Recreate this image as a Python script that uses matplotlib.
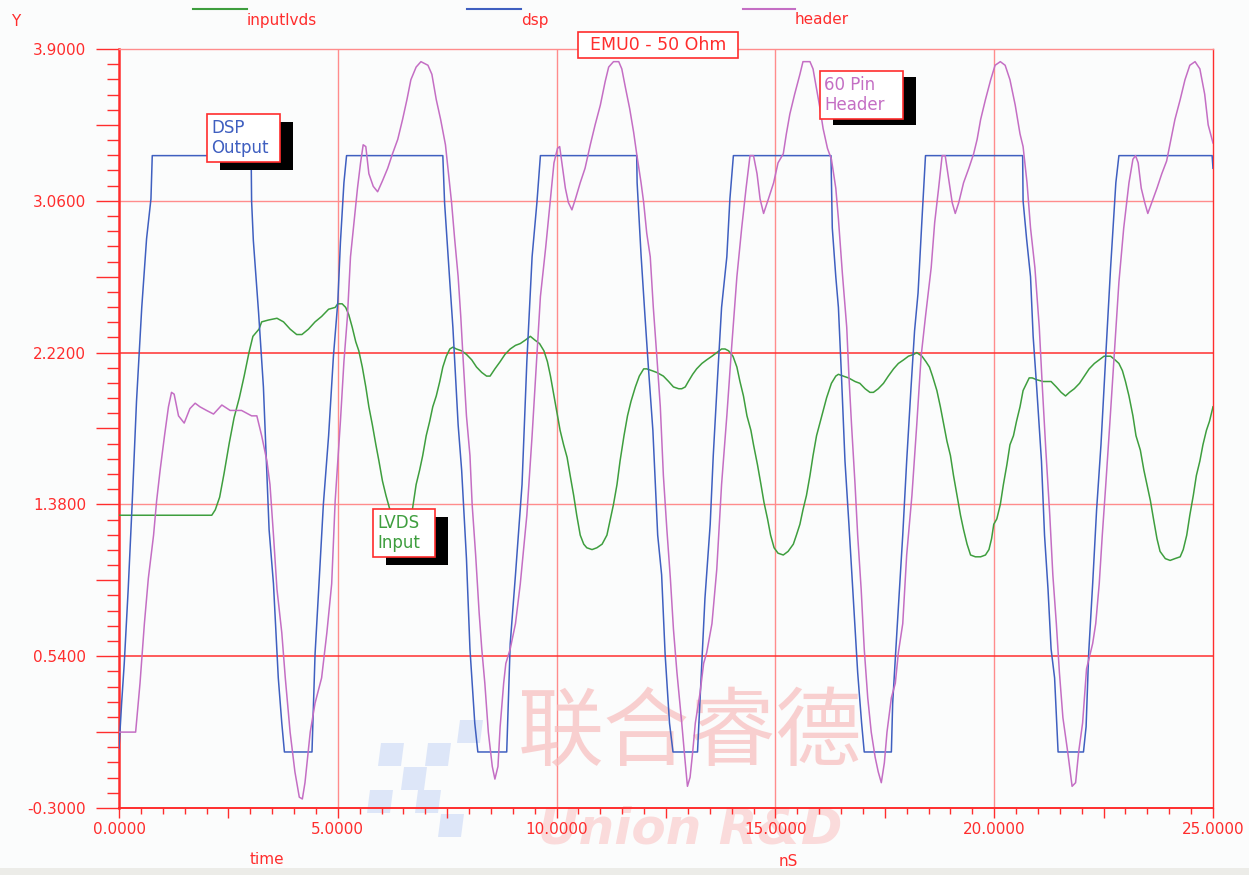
import numpy as np
import matplotlib
matplotlib.use("Agg")
import matplotlib.pyplot as plt
from matplotlib.patches import Rectangle, Polygon
from matplotlib.lines import Line2D

# ---------------- waveform data (time in nS, voltage in V) ----------------
dsp_t = [0.00, 0.06, 0.12, 0.21, 0.30, 0.40, 0.52, 0.63, 0.73, 0.76,
         3.02, 3.03, 3.07, 3.19, 3.30, 3.43, 3.53, 3.64, 3.72, 3.78,
         4.41, 4.48, 4.57, 4.67, 4.79, 4.90, 5.00, 5.06, 5.14, 5.20,
         7.40, 7.44, 7.56, 7.63, 7.75, 7.83, 7.94, 8.02, 8.13, 8.20,
         8.86, 8.94, 9.06, 9.21, 9.32, 9.44, 9.55, 9.63,
         11.83, 11.84, 11.93, 12.02, 12.10, 12.20, 12.31, 12.40, 12.48, 12.58, 12.66,
         13.22, 13.28, 13.39, 13.51, 13.58, 13.68, 13.77, 13.89, 13.96, 14.04,
         16.27, 16.30, 16.38, 16.44, 16.51, 16.59, 16.68, 16.78, 16.88, 16.97, 17.03,
         17.65, 17.68, 17.78, 17.91, 18.00, 18.10, 18.18, 18.26, 18.35, 18.43,
         20.65, 20.66, 20.74, 20.83, 20.89, 20.97, 21.08, 21.15, 21.23, 21.30, 21.38, 21.46,
         22.04, 22.10, 22.16, 22.25, 22.34, 22.44, 22.56, 22.66, 22.78, 22.85,
         24.98, 25.00]
dsp_v = [0.03, 0.28, 0.50, 0.91, 1.38, 1.95, 2.47, 2.85, 3.07, 3.31,
         3.31, 3.06, 2.84, 2.44, 2.03, 1.24, 0.94, 0.42, 0.17, 0.01,
         0.01, 0.55, 0.94, 1.38, 1.76, 2.20, 2.50, 2.83, 3.16, 3.31,
         3.31, 3.05, 2.61, 2.36, 1.82, 1.57, 1.08, 0.58, 0.17, 0.01,
         0.01, 0.61, 0.99, 1.49, 2.17, 2.75, 3.05, 3.31,
         3.31, 3.16, 2.76, 2.42, 2.13, 1.79, 1.21, 0.99, 0.55, 0.17, 0.01,
         0.01, 0.31, 0.86, 1.27, 1.65, 2.09, 2.47, 2.75, 3.07, 3.31,
         3.31, 2.91, 2.64, 2.47, 2.09, 1.62, 1.27, 0.86, 0.45, 0.17, 0.01,
         0.01, 0.28, 0.69, 1.21, 1.62, 2.03, 2.34, 2.55, 2.96, 3.31,
         3.31, 3.06, 2.85, 2.64, 2.31, 2.03, 1.62, 1.21, 0.91, 0.58, 0.42, 0.01,
         0.01, 0.15, 0.56, 0.94, 1.35, 1.71, 2.25, 2.69, 3.16, 3.31,
         3.31, 3.24]

header_t = [0.00, 0.38, 0.48, 0.58, 0.67, 0.79, 0.86, 0.94, 1.04, 1.13, 1.20, 1.26,
            1.36, 1.49, 1.62, 1.74, 1.85, 2.00, 2.16, 2.35, 2.54, 2.80, 3.03, 3.15,
            3.26, 3.38, 3.45, 3.53, 3.61, 3.72, 3.80, 3.91, 4.02, 4.12, 4.19,
            4.25, 4.37, 4.48, 4.63, 4.75, 4.86, 4.94, 5.06, 5.14, 5.22, 5.29, 5.37, 5.45, 5.52, 5.58,
            5.64, 5.71, 5.81, 5.91, 6.02, 6.14, 6.25, 6.37, 6.48, 6.58, 6.67, 6.79, 6.90, 7.06, 7.15,
            7.25, 7.35, 7.46, 7.53, 7.60, 7.67, 7.75, 7.81, 7.86, 7.94, 8.02, 8.07, 8.15, 8.23, 8.29, 8.36, 8.44, 8.53, 8.59,
            8.66, 8.71, 8.79, 8.84, 8.94, 9.06, 9.17, 9.32, 9.44, 9.55, 9.63, 9.75, 9.86, 9.94, 10.02, 10.07,
            10.12, 10.20, 10.27, 10.35, 10.43, 10.54, 10.65, 10.77, 10.88, 11.00, 11.11, 11.19, 11.30, 11.42, 11.49, 11.57,
            11.67, 11.76, 11.83, 11.93, 11.99, 12.06, 12.14, 12.21, 12.29, 12.37, 12.44, 12.52, 12.60, 12.67, 12.75, 12.86, 12.94, 12.99, 13.05,
            13.11, 13.17, 13.28, 13.36, 13.43, 13.55, 13.66, 13.77, 13.89, 14.00, 14.12, 14.23, 14.33, 14.42, 14.50,
            14.58, 14.65, 14.73, 14.84, 14.96, 15.06, 15.18, 15.25, 15.33, 15.44, 15.56, 15.63, 15.79, 15.86, 15.94,
            16.02, 16.09, 16.19, 16.28, 16.38, 16.44, 16.53, 16.63, 16.68, 16.74, 16.82, 16.88, 16.96, 17.03, 17.11, 17.19, 17.28, 17.35, 17.42, 17.49,
            17.55, 17.65, 17.74, 17.81, 17.91, 18.00, 18.12, 18.23, 18.33, 18.43, 18.56, 18.64, 18.73, 18.81, 18.88,
            18.96, 19.04, 19.11, 19.19, 19.30, 19.42, 19.53, 19.61, 19.69, 19.80, 19.92, 20.02, 20.14, 20.25, 20.36,
            20.48, 20.59, 20.66, 20.75, 20.83, 20.93, 21.03, 21.10, 21.18, 21.27, 21.34, 21.42, 21.49, 21.57, 21.68, 21.78, 21.86,
            21.93, 22.02, 22.11, 22.17, 22.25, 22.32, 22.40, 22.47, 22.55, 22.64, 22.74, 22.85, 22.96, 23.08, 23.17, 23.23, 23.29,
            23.36, 23.44, 23.51, 23.60, 23.72, 23.83, 23.94, 24.04, 24.13, 24.25, 24.36, 24.47, 24.59, 24.70, 24.81, 24.89, 24.98, 25.00]
header_v = [0.12, 0.12, 0.39, 0.72, 0.97, 1.21, 1.40, 1.57, 1.76, 1.92, 2.00, 1.99,
            1.87, 1.83, 1.91, 1.94, 1.92, 1.90, 1.88, 1.93, 1.90, 1.90, 1.87, 1.87,
            1.76, 1.62, 1.49, 1.21, 0.91, 0.67, 0.42, 0.12, -0.10, -0.24, -0.25,
            -0.16, 0.12, 0.28, 0.42, 0.67, 0.94, 1.40, 1.84, 2.17, 2.42, 2.75, 2.94, 3.13, 3.27, 3.37,
            3.36, 3.21, 3.14, 3.11, 3.17, 3.24, 3.32, 3.40, 3.51, 3.62, 3.73, 3.80, 3.83, 3.81, 3.76,
            3.62, 3.51, 3.37, 3.21, 3.05, 2.85, 2.64, 2.42, 2.20, 1.87, 1.65, 1.38, 1.10, 0.78, 0.58, 0.39, 0.12, -0.07, -0.14,
            -0.07, 0.15, 0.39, 0.50, 0.58, 0.72, 0.94, 1.32, 1.76, 2.20, 2.53, 2.80, 3.07, 3.27, 3.35, 3.36,
            3.27, 3.13, 3.05, 3.01, 3.07, 3.16, 3.24, 3.37, 3.48, 3.59, 3.72, 3.80, 3.83, 3.83, 3.79, 3.69,
            3.57, 3.44, 3.32, 3.16, 3.05, 2.88, 2.75, 2.47, 2.20, 1.92, 1.54, 1.24, 0.97, 0.69, 0.45, 0.17, -0.05, -0.18, -0.13,
            0.01, 0.17, 0.34, 0.50, 0.56, 0.72, 1.02, 1.49, 1.87, 2.25, 2.64, 2.91, 3.13, 3.31, 3.31,
            3.21, 3.07, 2.99, 3.07, 3.16, 3.27, 3.32, 3.43, 3.54, 3.65, 3.76, 3.83, 3.83, 3.79, 3.68,
            3.57, 3.46, 3.35, 3.29, 3.13, 2.96, 2.66, 2.36, 2.09, 1.82, 1.49, 1.21, 0.91, 0.58, 0.31, 0.12, -0.02, -0.10, -0.16, -0.05,
            0.12, 0.31, 0.39, 0.56, 0.72, 1.10, 1.43, 1.82, 2.20, 2.42, 2.69, 2.94, 3.13, 3.31, 3.31,
            3.18, 3.05, 2.99, 3.05, 3.16, 3.24, 3.32, 3.40, 3.51, 3.62, 3.73, 3.81, 3.83, 3.81, 3.73,
            3.59, 3.43, 3.36, 3.16, 2.91, 2.69, 2.36, 2.03, 1.68, 1.32, 0.99, 0.72, 0.45, 0.20, 0.01, -0.18, -0.16,
            0.01, 0.17, 0.47, 0.53, 0.61, 0.72, 0.94, 1.21, 1.49, 1.82, 2.20, 2.61, 2.91, 3.16, 3.29, 3.31, 3.27,
            3.13, 3.05, 2.99, 3.05, 3.13, 3.21, 3.28, 3.40, 3.51, 3.62, 3.73, 3.81, 3.83, 3.79, 3.65, 3.48, 3.40, 3.38]

lvds_t = [0.00, 2.12, 2.20, 2.30, 2.40, 2.52, 2.63, 2.75, 2.86, 2.97, 3.06, 3.20,
          3.26, 3.41, 3.61, 3.76, 3.91, 4.06, 4.18, 4.33, 4.48, 4.63, 4.79, 4.94, 5.00, 5.10, 5.18,
          5.25, 5.33, 5.41, 5.48, 5.56, 5.64, 5.71, 5.79, 5.87, 5.94, 6.02, 6.10, 6.18, 6.26, 6.35, 6.45,
          6.55, 6.63, 6.71, 6.79, 6.87, 6.94, 7.02, 7.10, 7.17, 7.25, 7.33, 7.40, 7.48, 7.56,
          7.63, 7.71, 7.83, 7.94, 8.06, 8.17, 8.29, 8.40, 8.48, 8.59, 8.71, 8.82, 8.94, 9.06, 9.17, 9.29, 9.40, 9.50, 9.61, 9.71, 9.79, 9.86,
          9.94, 10.02, 10.08, 10.16, 10.24, 10.31, 10.39, 10.46, 10.54, 10.62, 10.69, 10.81, 10.92, 11.04, 11.15,
          11.23, 11.30, 11.38, 11.45, 11.54, 11.62, 11.70, 11.80, 11.89, 11.99, 12.06,
          12.18, 12.29, 12.44, 12.56, 12.67, 12.79, 12.86, 12.94, 13.01, 13.11, 13.20, 13.32, 13.43, 13.55, 13.66, 13.77, 13.85, 13.93, 14.03, 14.12, 14.19, 14.27,
          14.35, 14.44, 14.50, 14.59, 14.67, 14.74, 14.82, 14.89, 14.97, 15.06, 15.18, 15.29, 15.41, 15.48,
          15.56, 15.63, 15.71, 15.79, 15.86, 15.94, 16.06, 16.17, 16.28, 16.38, 16.44,
          16.55, 16.67, 16.82, 16.93, 17.05, 17.16, 17.24, 17.35, 17.47, 17.58, 17.70, 17.81, 17.93, 18.04, 18.16, 18.23, 18.35, 18.44, 18.52, 18.59, 18.69,
          18.77, 18.85, 18.92, 19.00, 19.07, 19.15, 19.23, 19.30, 19.38, 19.46, 19.57, 19.69, 19.80, 19.88, 19.94,
          19.99, 20.06, 20.14, 20.21, 20.29, 20.36, 20.44, 20.51, 20.59, 20.66, 20.74, 20.80, 20.87,
          20.97, 21.12, 21.30, 21.42, 21.53, 21.63, 21.72, 21.83, 21.95, 22.06, 22.17, 22.29, 22.40, 22.51, 22.59, 22.66, 22.76, 22.85, 22.93, 23.00, 23.08,
          23.17, 23.24, 23.34, 23.42, 23.49, 23.57, 23.64, 23.72, 23.79, 23.91, 24.02, 24.13, 24.25, 24.32,
          24.40, 24.47, 24.55, 24.62, 24.70, 24.77, 24.85, 24.92, 25.00]
lvds_v = [1.32, 1.32, 1.35, 1.42, 1.55, 1.72, 1.86, 1.97, 2.09, 2.22, 2.31, 2.35,
          2.39, 2.40, 2.41, 2.39, 2.35, 2.32, 2.32, 2.35, 2.39, 2.42, 2.46, 2.47, 2.49, 2.49, 2.47,
          2.43, 2.36, 2.28, 2.23, 2.14, 2.03, 1.92, 1.82, 1.71, 1.62, 1.51, 1.43, 1.36, 1.28, 1.21, 1.18,
          1.21, 1.29, 1.36, 1.49, 1.57, 1.65, 1.76, 1.84, 1.92, 1.98, 2.06, 2.14, 2.20, 2.24,
          2.25, 2.24, 2.23, 2.21, 2.18, 2.14, 2.11, 2.09, 2.09, 2.13, 2.17, 2.21, 2.24, 2.26, 2.27, 2.29, 2.31, 2.29, 2.27, 2.23, 2.17, 2.09,
          1.98, 1.87, 1.79, 1.71, 1.64, 1.54, 1.43, 1.32, 1.21, 1.16, 1.14, 1.13, 1.14, 1.16, 1.21,
          1.30, 1.38, 1.49, 1.62, 1.76, 1.87, 1.95, 2.03, 2.09, 2.13, 2.13,
          2.12, 2.11, 2.09, 2.06, 2.03, 2.02, 2.02, 2.03, 2.06, 2.10, 2.13, 2.16, 2.18, 2.20, 2.22, 2.24, 2.24, 2.23, 2.20, 2.14, 2.06, 1.98,
          1.87, 1.79, 1.71, 1.60, 1.49, 1.39, 1.30, 1.21, 1.14, 1.11, 1.10, 1.12, 1.16, 1.21,
          1.27, 1.35, 1.43, 1.54, 1.65, 1.76, 1.87, 1.97, 2.05, 2.09, 2.10,
          2.09, 2.08, 2.06, 2.05, 2.02, 2.00, 2.00, 2.02, 2.05, 2.09, 2.13, 2.16, 2.18, 2.20, 2.21, 2.22, 2.20, 2.17, 2.14, 2.09, 2.01,
          1.92, 1.82, 1.73, 1.65, 1.54, 1.43, 1.32, 1.24, 1.16, 1.10, 1.09, 1.09, 1.10, 1.13, 1.19,
          1.27, 1.30, 1.38, 1.49, 1.60, 1.71, 1.76, 1.84, 1.92, 2.01, 2.05, 2.08, 2.08,
          2.07, 2.06, 2.06, 2.03, 2.00, 1.98, 2.00, 2.02, 2.05, 2.09, 2.13, 2.16, 2.18, 2.20, 2.20, 2.20, 2.18, 2.16, 2.12, 2.06, 1.98,
          1.87, 1.76, 1.68, 1.57, 1.49, 1.40, 1.30, 1.19, 1.12, 1.08, 1.07, 1.08, 1.09, 1.13,
          1.21, 1.32, 1.43, 1.54, 1.62, 1.71, 1.79, 1.84, 1.92]

series_names = ["inputlvds", "dsp", "header"]
y_label_ticks = [-0.30, 0.54, 1.38, 2.22, 3.06, 3.90]
x_label_ticks = [0.0, 5.0, 10.0, 15.0, 20.0, 25.0]

# ---------------- styling ----------------
W, H = 1249, 875
BG = "#FBFCFC"
RED = "#FF2D2D"
GRID_LIGHT = "#FF8C8C"
GRID_DARK = "#FF3030"
C_LVDS = "#3E9E3E"
C_DSP = "#3F5FC0"
C_HDR = "#C46EC4"

plt.rcParams["font.family"] = ["DejaVu Sans"]


def fx(x):
    return x / W


def fy(y):
    return 1.0 - y / H


fig = plt.figure(figsize=(W / 100, H / 100), dpi=100, facecolor=BG)
ax = fig.add_axes([fx(119), fy(808), (1213 - 119) / W, (808 - 49) / H])
ax.set_facecolor(BG)
ax.set_xlim(0, 25)
ax.set_ylim(-0.3, 3.9)

# grey window strip at the bottom
fig.add_artist(Rectangle((0, 0), 1, 7 / H, transform=fig.transFigure,
                         facecolor="#ECECE8", edgecolor="none"))

# grid
for xv in x_label_ticks[1:-1]:
    ax.axvline(xv, color=GRID_LIGHT, lw=1.0, zorder=1)
for yv, col in zip(y_label_ticks[1:-1], [GRID_DARK, GRID_LIGHT, GRID_DARK, GRID_LIGHT]):
    ax.axhline(yv, color=col, lw=1.1 if col == GRID_DARK else 1.0, zorder=1)

# spines
for side, lw, col in [("left", 1.8, RED), ("bottom", 1.4, RED),
                      ("top", 1.0, GRID_LIGHT), ("right", 1.0, RED)]:
    ax.spines[side].set_color(col)
    ax.spines[side].set_linewidth(lw)

# y ticks: labelled every 0.84 V, long mid tick in between, minor every 0.084 V
y_major = np.round(np.linspace(-0.30, 3.90, 11), 3)
ax.set_yticks(y_major)
ax.set_yticklabels([f"{v:.4f}" if i % 2 == 0 else "" for i, v in enumerate(y_major)])
ax.set_yticks(np.round(np.linspace(-0.30, 3.90, 51), 4), minor=True)
ax.tick_params(axis="y", which="major", length=16.5, width=1.0, color=RED,
               labelcolor=RED, labelsize=11, pad=7)
ax.tick_params(axis="y", which="minor", length=8.5, width=1.0, color=RED)

# x ticks: labelled every 5 nS, mid tick at 2.5, minor every 0.5 nS
x_major = np.linspace(0, 25, 11)
ax.set_xticks(x_major)
ax.set_xticklabels([f"{v:.4f}" if i % 2 == 0 else "" for i, v in enumerate(x_major)])
ax.set_xticks(np.linspace(0, 25, 51), minor=True)
ax.tick_params(axis="x", which="major", length=7, width=1.0, color=RED,
               labelcolor=RED, labelsize=11, pad=3)
ax.tick_params(axis="x", which="minor", length=4.5, width=1.0, color=RED)

# traces
ax.plot(lvds_t, lvds_v, color=C_LVDS, lw=1.1, zorder=3)
ax.plot(dsp_t, dsp_v, color=C_DSP, lw=1.1, zorder=3)
ax.plot(header_t, header_v, color=C_HDR, lw=1.1, zorder=3)

# watermark (behind the traces)
ax.text(fx(690), fy(735), "联合睿德", transform=fig.transFigure, ha="center", va="center",
        fontsize=62, color="#F8BDBD", alpha=0.7, zorder=1.5, clip_on=False,
        family=["Noto Sans CJK SC", "DejaVu Sans"])
ax.text(fx(690), fy(830), "Union R&D", transform=fig.transFigure, ha="center", va="center",
        fontsize=36, color="#FAD0D0", alpha=0.75, zorder=1.5, clip_on=False,
        style="italic", weight="bold")
checker = [(457, 720), (425, 743), (378, 743), (401, 767), (367, 790), (415, 790), (438, 814)]
for (px, py) in checker:
    pts = [(fx(px + 3), fy(py)), (fx(px + 26), fy(py)), (fx(px + 23), fy(py + 23)), (fx(px), fy(py + 23))]
    ax.add_patch(Polygon(pts, closed=True, transform=fig.transFigure, facecolor="#D8E3F8",
                         edgecolor="none", alpha=0.85, zorder=1.4, clip_on=False))

# legend across the top
for (x0, x1, col, name) in [(193, 247, C_LVDS, series_names[0]),
                            (467, 521, C_DSP, series_names[1]),
                            (743, 795, C_HDR, series_names[2])]:
    fig.add_artist(Line2D([fx(x0), fx(x1)], [fy(9), fy(9)], transform=fig.transFigure,
                          color=col, lw=1.5))
    fig.text(fx(x1), fy(20), name, color=RED, fontsize=11, ha="left", va="center")

# axis captions
fig.text(fx(16), fy(21), "Y", color=RED, fontsize=11, ha="center", va="center")
fig.text(fx(267), fy(860), "time", color=RED, fontsize=11, ha="center", va="center")
fig.text(fx(788), fy(862), "nS", color=RED, fontsize=11, ha="center", va="center")


def boxed(x0, y0, x1, y1, text, color, shadow=None, size=12, ha="left"):
    if shadow is not None:
        sx, sy = shadow
        fig.add_artist(Rectangle((fx(x0 + sx), fy(y1 + sy)), (x1 - x0) / W, (y1 - y0) / H,
                                 transform=fig.transFigure, facecolor="black",
                                 edgecolor="none", zorder=4))
    fig.add_artist(Rectangle((fx(x0), fy(y1)), (x1 - x0) / W, (y1 - y0) / H,
                             transform=fig.transFigure, facecolor="white",
                             edgecolor=RED, lw=1.2, zorder=5))
    tx = fx(x0 + 4) if ha == "left" else fx((x0 + x1) / 2)
    fig.text(tx, fy((y0 + y1) / 2), text, color=color, fontsize=size, ha=ha,
             va="center", linespacing=1.1, zorder=6)


boxed(578, 32, 738, 58, "EMU0 - 50 Ohm", RED, size=12.5, ha="center")
boxed(207, 114, 280, 162, "DSP\nOutput", C_DSP, shadow=(13, 8))
boxed(820, 71, 903, 119, "60 Pin\nHeader", C_HDR, shadow=(13, 6))
boxed(373, 509, 435, 557, "LVDS\nInput", C_LVDS, shadow=(13, 8))

fig.savefig("out.png", dpi=100, facecolor=BG)
